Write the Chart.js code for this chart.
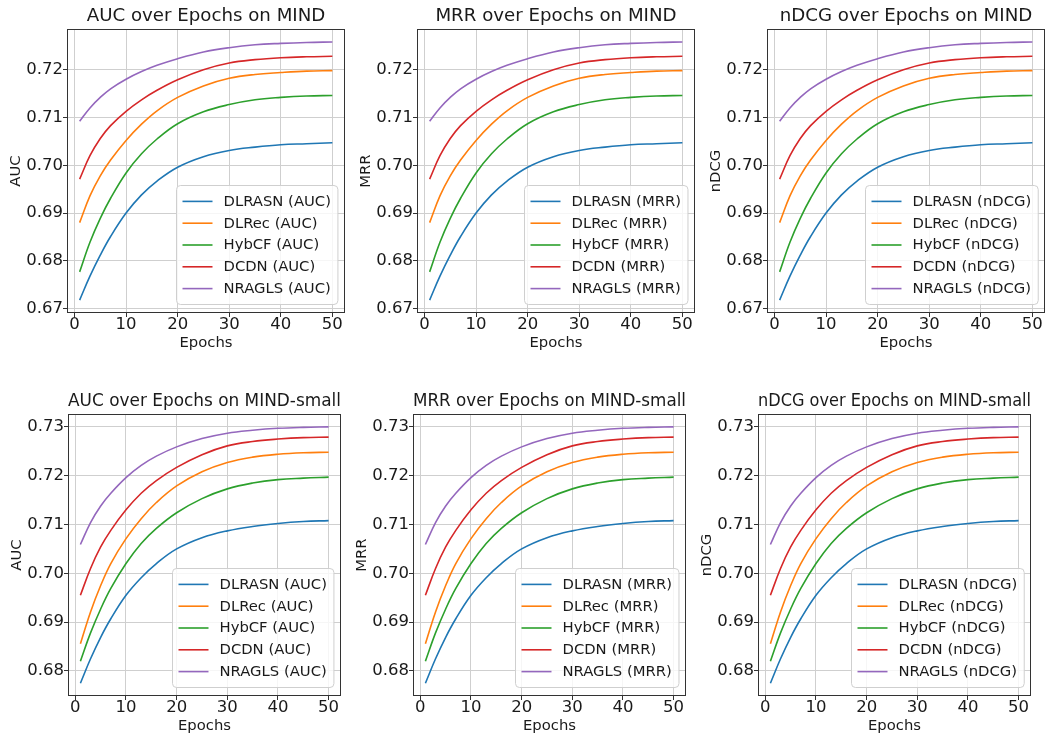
<!DOCTYPE html>
<html><head><meta charset="utf-8">
<script src="https://cdn.jsdelivr.net/npm/chart.js@4.4.0/dist/chart.umd.min.js"></script>
<style>
html,body{margin:0;padding:0;background:#fff;width:1047px;height:740px;overflow:hidden;position:relative;}
canvas{position:absolute;}
</style></head><body>
<script>
// ---------- data ----------
const epochs = [1, 3, 5, 7, 10, 13, 16, 20, 25, 30, 35, 40, 45, 50];
const models = ['DLRASN', 'DLRec', 'HybCF', 'DCDN', 'NRAGLS'];
const metrics = ['AUC', 'MRR', 'nDCG'];
const datasetNames = ['MIND', 'MIND-small'];

const mindDLRASN = [0.6718, 0.6768, 0.6812, 0.6851, 0.6900, 0.6938, 0.6967, 0.6996, 0.7018, 0.7031, 0.7038, 0.7043, 0.7045, 0.7047];
const mindDLRec  = [0.6880, 0.6936, 0.6978, 0.7011, 0.7052, 0.7086, 0.7114, 0.7142, 0.7166, 0.7182, 0.7190, 0.7194, 0.7197, 0.7198];
const mindHybCF  = [0.6777, 0.6839, 0.6889, 0.6931, 0.6984, 0.7024, 0.7055, 0.7087, 0.7112, 0.7127, 0.7137, 0.7142, 0.7145, 0.7146];
const mindDCDN   = [0.6971, 0.7020, 0.7056, 0.7083, 0.7113, 0.7137, 0.7157, 0.7179, 0.7200, 0.7214, 0.7221, 0.7225, 0.7227, 0.7228];
const mindNRAGLS = [0.7092, 0.7120, 0.7142, 0.7160, 0.7180, 0.7196, 0.7209, 0.7223, 0.7237, 0.7246, 0.7252, 0.7255, 0.7257, 0.7258];

const smallDLRASN = [0.6775, 0.6825, 0.6869, 0.6907, 0.6955, 0.6991, 0.7020, 0.7050, 0.7073, 0.7087, 0.7096, 0.7102, 0.7106, 0.7108];
const smallDLRec  = [0.6856, 0.6921, 0.6975, 0.7020, 0.7071, 0.7112, 0.7145, 0.7179, 0.7208, 0.7227, 0.7238, 0.7244, 0.7247, 0.7248];
const smallHybCF  = [0.6820, 0.6878, 0.6927, 0.6969, 0.7020, 0.7061, 0.7092, 0.7124, 0.7153, 0.7173, 0.7185, 0.7192, 0.7195, 0.7197];
const smallDCDN   = [0.6955, 0.7010, 0.7054, 0.7088, 0.7130, 0.7164, 0.7190, 0.7217, 0.7243, 0.7261, 0.7270, 0.7275, 0.7278, 0.7279];
const smallNRAGLS = [0.7059, 0.7104, 0.7138, 0.7164, 0.7196, 0.7221, 0.7240, 0.7259, 0.7276, 0.7287, 0.7293, 0.7297, 0.7299, 0.7300];

const xTicks = [0, 10, 20, 30, 40, 50];
const yTicksMIND = [0.67, 0.68, 0.69, 0.70, 0.71, 0.72];
const yTicksSmall = [0.68, 0.69, 0.70, 0.71, 0.72, 0.73];

const mindSeries = [mindDLRASN, mindDLRec, mindHybCF, mindDCDN, mindNRAGLS];
const smallSeries = [smallDLRASN, smallDLRec, smallHybCF, smallDCDN, smallNRAGLS];

// ---------- style / layout ----------
const colors = ['#1f77b4', '#ff7f0e', '#2ca02c', '#d62728', '#9467bd'];
const FONT = "'DejaVu Sans', 'Liberation Sans', sans-serif";
const plotRects = [
  [67, 29, 345, 313], [417, 29, 695, 313], [767, 29, 1045, 313],
  [68, 414, 341, 696], [413, 414, 686, 696], [758, 414, 1031, 696]
];
const Y_W = 67, TITLE_H = 29, X_H = 40, PAD_R = 2;

const framePlugin = {
  id: 'frame',
  afterDatasetsDraw(chart) {
    const a = chart.chartArea, c = chart.ctx;
    c.save();
    c.strokeStyle = '#333333';
    c.lineWidth = 1;
    const l = Math.round(a.left) + 0.5, r = Math.round(a.right) - 0.5;
    const t = Math.round(a.top) + 0.5, b = Math.round(a.bottom) - 0.5;
    c.strokeRect(l, t, r - l, b - t);
    c.restore();
  }
};

const boxLegend = {
  id: 'boxLegend',
  afterDraw(chart) {
    const {ctx, chartArea: a} = chart;
    const items = chart.data.datasets;
    ctx.save();
    ctx.font = "14.8px " + FONT;
    const maxW = Math.max(...items.map(d => ctx.measureText(d.label).width));
    const padL = 6, handle = 30, gap = 11, padR = 7, rowH = 21.8, padT = 5;
    const w = padL + handle + gap + maxW + padR;
    const h = padT * 2 + rowH * items.length;
    const x = Math.round(a.right - 7.5 - w) + 0.5, y = Math.round(a.bottom - 9 - h) + 0.5;
    const rad = 4;
    ctx.beginPath();
    ctx.moveTo(x + rad, y);
    ctx.lineTo(x + w - rad, y);
    ctx.quadraticCurveTo(x + w, y, x + w, y + rad);
    ctx.lineTo(x + w, y + h - rad);
    ctx.quadraticCurveTo(x + w, y + h, x + w - rad, y + h);
    ctx.lineTo(x + rad, y + h);
    ctx.quadraticCurveTo(x, y + h, x, y + h - rad);
    ctx.lineTo(x, y + rad);
    ctx.quadraticCurveTo(x, y, x + rad, y);
    ctx.closePath();
    ctx.fillStyle = 'rgba(255,255,255,0.8)';
    ctx.fill();
    ctx.strokeStyle = '#cfcfcf';
    ctx.lineWidth = 1;
    ctx.stroke();
    items.forEach((d, i) => {
      const cy = y + padT + rowH * (i + 0.5);
      ctx.beginPath();
      ctx.strokeStyle = d.borderColor;
      ctx.lineWidth = 1.6;
      ctx.moveTo(x + padL, cy);
      ctx.lineTo(x + padL + handle, cy);
      ctx.stroke();
      ctx.fillStyle = '#1a1a1a';
      ctx.textBaseline = 'middle';
      ctx.textAlign = 'left';
      ctx.fillText(d.label, x + padL + handle + gap, cy + 0.5);
    });
    ctx.restore();
  }
};

function range(seriesList) {
  const all = seriesList.flat();
  const mn = Math.min(...all), mx = Math.max(...all);
  const m = (mx - mn) * 0.05;
  return [mn - m, mx + m];
}

function makeChart(row, col) {
  const [L, T, R, B] = plotRects[row * 3 + col];
  const w = R - L + Y_W + PAD_R, h = B - T + TITLE_H + X_H;
  const canvas = document.createElement('canvas');
  canvas.width = w; canvas.height = h;
  canvas.style.left = (L - Y_W) + 'px';
  canvas.style.top = (T - TITLE_H) + 'px';
  canvas.style.width = w + 'px';
  canvas.style.height = h + 'px';
  document.body.appendChild(canvas);

  const series = row === 0 ? mindSeries : smallSeries;
  const yTicks = row === 0 ? yTicksMIND : yTicksSmall;
  const metric = metrics[col];
  const [ymin, ymax] = range(series);
  const xm = (epochs[epochs.length - 1] - epochs[0]) * 0.05;

  const datasets = models.map((m, i) => ({
    label: m + ' (' + metric + ')',
    data: epochs.map((e, k) => ({x: e, y: series[i][k]})),
    borderColor: colors[i],
    backgroundColor: colors[i],
    borderWidth: 1.6,
    pointRadius: 0,
    fill: false,
    tension: 0.4
  }));

  new Chart(canvas, {
    type: 'line',
    data: {datasets},
    options: {
      responsive: false,
      animation: false,
      devicePixelRatio: 1,
      layout: {padding: {left: 0, right: PAD_R, top: 0, bottom: 0}, autoPadding: false},
      plugins: {
        legend: {display: false},
        tooltip: {enabled: false},
        title: {
          display: true,
          text: metric + ' over Epochs on ' + datasetNames[row],
          font: {family: FONT, size: 18.2, weight: 'normal', lineHeight: 1.2},
          color: '#1a1a1a',
          padding: {top: 5, bottom: 2.2},
          fullSize: false
        }
      },
      scales: {
        x: {
          type: 'linear',
          min: epochs[0] - xm,
          max: epochs[epochs.length - 1] + xm,
          afterBuildTicks: s => { s.ticks = xTicks.map(v => ({value: v})); },
          afterFit: s => { s.height = X_H; },
          grid: {color: '#cfcfcf', lineWidth: 1, tickColor: '#333333', tickLength: 4, drawTicks: true},
          border: {display: false},
          ticks: {color: '#1a1a1a', font: {family: FONT, size: 16.5, lineHeight: 1}, padding: -1, maxRotation: 0,
                  callback: v => String(v)},
          title: {display: true, text: 'Epochs', color: '#1a1a1a',
                  font: {family: FONT, size: 14.8, lineHeight: 1.2}, padding: {top: 0, bottom: 0.5}}
        },
        y: {
          type: 'linear',
          min: ymin,
          max: ymax,
          afterBuildTicks: s => { s.ticks = yTicks.map(v => ({value: v})); },
          afterFit: s => { s.width = Y_W; },
          grid: {color: '#cfcfcf', lineWidth: 1, tickColor: '#333333', tickLength: 4, drawTicks: true},
          border: {display: false},
          ticks: {color: '#1a1a1a', font: {family: FONT, size: 16.5}, padding: 0,
                  callback: v => v.toFixed(2)},
          title: {display: true, text: metric, color: '#1a1a1a',
                  font: {family: FONT, size: 14.8, lineHeight: 1.2}, padding: {top: 7, bottom: 0}}
        }
      }
    },
    plugins: [framePlugin, boxLegend]
  });
}

for (let r = 0; r < 2; r++) for (let c = 0; c < 3; c++) makeChart(r, c);
</script>
</body></html>
